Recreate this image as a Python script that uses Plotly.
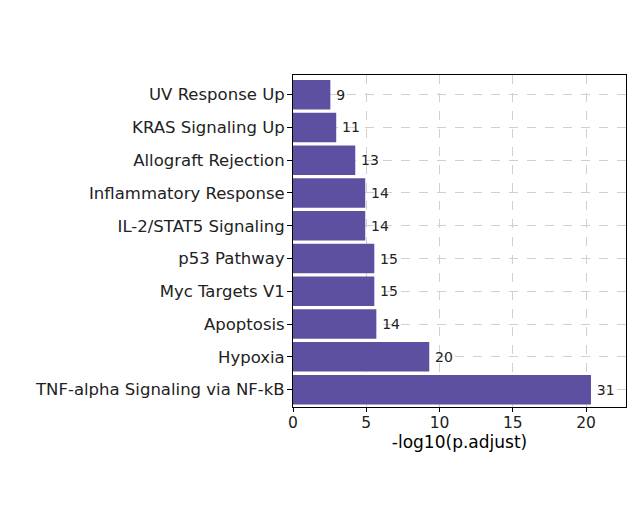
import plotly.graph_objects as go

categories = ["TNF-alpha Signaling via NF-kB", "Hypoxia", "Apoptosis", "Myc Targets V1",
              "p53 Pathway", "IL-2/STAT5 Signaling", "Inflammatory Response",
              "Allograft Rejection", "KRAS Signaling Up", "UV Response Up"]
values = [20.34, 9.30, 5.69, 5.55, 5.55, 4.93, 4.93, 4.25, 2.95, 2.55]
counts = [31, 20, 14, 15, 15, 14, 14, 13, 11, 9]

FONT = "DejaVu Sans"
fig = go.Figure()
fig.add_trace(go.Bar(
    y=categories, x=values, orientation="h",
    marker=dict(color="#5E50A1", line=dict(width=0)),
    text=[str(c) for c in counts], textposition="outside",
    texttemplate="\u2009%{text}",
    textfont=dict(family=FONT, size=14, color="#222222"),
    constraintext="none",
    cliponaxis=False,
))
fig.update_layout(
    width=624, height=510,
    margin=dict(l=285, r=6, t=67, b=111),
    paper_bgcolor="white", plot_bgcolor="white",
    bargap=0.1, showlegend=False,
    font=dict(family=FONT, size=15, color="#222222"),
)
fig.update_xaxes(
    range=[0, 22.73], tickvals=[0, 5, 10, 15, 20],
    showgrid=True, gridcolor="#d0d0d0", griddash="dash", gridwidth=1,
    showline=True, linecolor="black", linewidth=1, mirror=True,
    ticks="outside", ticklen=4, tickcolor="black", zeroline=False,
    ticklabelstandoff=-3,
    tickfont=dict(family=FONT, size=15.5, color="#222222"),
    title=dict(text="-log10(p.adjust)", font=dict(family=FONT, size=17, color="black"), standoff=0),
)
fig.update_yaxes(
    range=[-0.53, 9.6], type="category",
    showgrid=True, gridcolor="#d0d0d0", griddash="dash", gridwidth=1,
    showline=True, linecolor="black", linewidth=1, mirror=True,
    ticks="outside", ticklen=5, tickcolor="black",
    ticklabelstandoff=-1,
    tickfont=dict(family=FONT, size=16.5, color="#222222"),
)
fig.write_html("out.html")
